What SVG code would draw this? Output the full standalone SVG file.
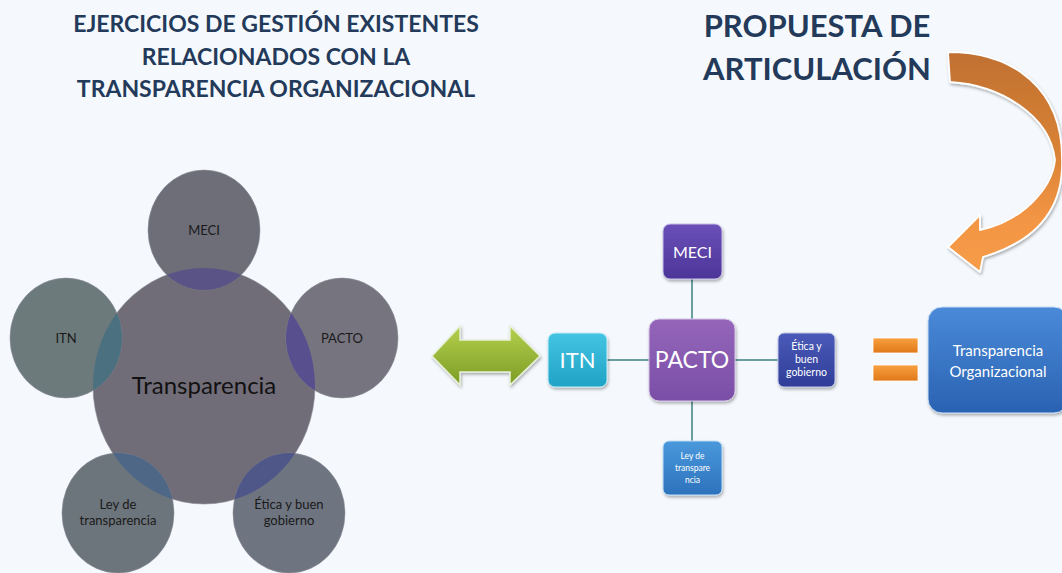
<svg xmlns="http://www.w3.org/2000/svg" width="1062" height="573" viewBox="0 0 1062 573">
<defs>
<style>
.t{font-family:Lato,"Open Sans","Liberation Sans",sans-serif}
.title{font-weight:bold;fill:#243a5a;text-anchor:middle}
.cl{font-size:13px;fill:#1a1a1a;text-anchor:middle}
.wl{fill:#ffffff;text-anchor:middle}
.circ{stroke:#8a8c96;stroke-width:1;stroke-opacity:0.6}
.conn{stroke:#6a9fa0;stroke-width:2;fill:none}
</style>
<linearGradient id="gGreen" x1="0" y1="0" x2="0" y2="1"><stop offset="0" stop-color="#b4d04e"/><stop offset="1" stop-color="#7c9c24"/></linearGradient>
<linearGradient id="gOrange" gradientUnits="userSpaceOnUse" x1="0" y1="52" x2="0" y2="272"><stop offset="0" stop-color="#c07030"/><stop offset="0.45" stop-color="#d98236"/><stop offset="0.75" stop-color="#f29544"/><stop offset="1" stop-color="#f69c48"/></linearGradient>
<linearGradient id="gBar" x1="0" y1="0" x2="0" y2="1"><stop offset="0" stop-color="#f8a040"/><stop offset="1" stop-color="#e07818"/></linearGradient>
<linearGradient id="gITN" x1="0" y1="0" x2="0" y2="1"><stop offset="0" stop-color="#44c4e2"/><stop offset="1" stop-color="#1fa3c6"/></linearGradient>
<linearGradient id="gPACTO" x1="0" y1="0" x2="0" y2="1"><stop offset="0" stop-color="#9466ba"/><stop offset="1" stop-color="#7a4ea6"/></linearGradient>
<linearGradient id="gMECI" x1="0" y1="0" x2="0" y2="1"><stop offset="0" stop-color="#6a4fb8"/><stop offset="1" stop-color="#4c3598"/></linearGradient>
<linearGradient id="gETICA" x1="0" y1="0" x2="0" y2="1"><stop offset="0" stop-color="#4a5ab8"/><stop offset="1" stop-color="#2f3d98"/></linearGradient>
<linearGradient id="gLEY" x1="0" y1="0" x2="0" y2="1"><stop offset="0" stop-color="#4a98dc"/><stop offset="1" stop-color="#2c72bc"/></linearGradient>
<linearGradient id="gTO" x1="0" y1="0" x2="0" y2="1"><stop offset="0" stop-color="#4a8ad8"/><stop offset="1" stop-color="#2a62b2"/></linearGradient>
<filter id="sh" x="-20%" y="-20%" width="140%" height="140%"><feDropShadow dx="1" dy="2" stdDeviation="1.5" flood-color="#000" flood-opacity="0.3"/></filter>
<clipPath id="cCenter"><ellipse cx="204" cy="386" rx="111" ry="118"/></clipPath>
</defs>
<rect width="1062" height="573" fill="#f5f9fd"/>

<g id="title-left" class="t title" font-size="23">
<text x="276" y="32">EJERCICIOS DE GESTIÓN EXISTENTES</text>
<text x="276" y="65">RELACIONADOS CON LA</text>
<text x="276" y="97">TRANSPARENCIA ORGANIZACIONAL</text>
</g>
<g id="title-right" class="t title" font-size="31">
<text x="817" y="37">PROPUESTA DE</text>
<text x="817" y="80">ARTICULACIÓN</text>
</g>

<g id="venn">
<g id="center">
<ellipse class="circ" cx="204" cy="386" rx="111" ry="118" fill="#716d78"/>
</g>
<g id="c-meci">
<ellipse class="circ" cx="204" cy="230" rx="56" ry="60" fill="#6e6e78"/>
<ellipse cx="204" cy="230" rx="56" ry="60" fill="#5a5386" clip-path="url(#cCenter)"/>
<text class="t cl" x="204" y="235">MECI</text>
</g>
<g id="c-pacto">
<ellipse class="circ" cx="342" cy="338" rx="56" ry="60" fill="#76747e"/>
<ellipse cx="342" cy="338" rx="56" ry="60" fill="#574f8e" clip-path="url(#cCenter)"/>
<text class="t cl" x="342" y="343">PACTO</text>
</g>
<g id="c-itn">
<ellipse class="circ" cx="66" cy="338" rx="56" ry="60" fill="#6d7a7c"/>
<ellipse cx="66" cy="338" rx="56" ry="60" fill="#4b7080" clip-path="url(#cCenter)"/>
<text class="t cl" x="66" y="343">ITN</text>
</g>
<g id="c-ley">
<ellipse class="circ" cx="118" cy="513" rx="56" ry="60" fill="#6c747c"/>
<ellipse cx="118" cy="513" rx="56" ry="60" fill="#4e6787" clip-path="url(#cCenter)"/>
<text class="t cl" x="118" y="509">Ley de</text>
<text class="t cl" x="118" y="525">transparencia</text>
</g>
<g id="c-etica">
<ellipse class="circ" cx="289" cy="513" rx="56" ry="60" fill="#6e7480"/>
<ellipse cx="289" cy="513" rx="56" ry="60" fill="#4f5789" clip-path="url(#cCenter)"/>
<text class="t cl" x="289" y="509">Ética y buen</text>
<text class="t cl" x="289" y="525">gobierno</text>
</g>
<text class="t" x="204" y="394" font-size="24" fill="#111" text-anchor="middle">Transparencia</text>
</g>

<g id="double-arrow">
<path d="M432,356 L460,326 L460,340 L510,340 L510,326 L540,356 L510,385 L510,372 L460,372 L460,385 Z" fill="url(#gGreen)" stroke="#e8f0d8" stroke-width="1.5" filter="url(#sh)"/>
</g>

<g id="connectors">
<line class="conn" x1="692" y1="279" x2="692" y2="319"/>
<line class="conn" x1="692" y1="401" x2="692" y2="441"/>
<line class="conn" x1="607" y1="360" x2="649" y2="360"/>
<line class="conn" x1="735" y1="360" x2="778" y2="360"/>
</g>

<g id="n-itn">
<rect x="548" y="333" width="59" height="54" rx="7" fill="url(#gITN)" stroke="#c6ecf6" stroke-width="1" filter="url(#sh)"/>
<text class="t wl" x="577.5" y="368" font-size="22">ITN</text>
</g>
<g id="n-pacto">
<rect x="649" y="319" width="86" height="82" rx="10" fill="url(#gPACTO)" stroke="#d6c6e6" stroke-width="1" filter="url(#sh)"/>
<text class="t wl" x="692" y="368" font-size="23">PACTO</text>
</g>
<g id="n-meci">
<rect x="663" y="224" width="59" height="55" rx="7" fill="url(#gMECI)" stroke="#c8c0e6" stroke-width="1" filter="url(#sh)"/>
<text class="t wl" x="692.5" y="258" font-size="16">MECI</text>
</g>
<g id="n-etica">
<rect x="778" y="333" width="57" height="54" rx="6" fill="url(#gETICA)" stroke="#c0c6e6" stroke-width="1" filter="url(#sh)"/>
<text class="t wl" x="806.5" y="350" font-size="10.5">Ética y</text>
<text class="t wl" x="806.5" y="363" font-size="10.5">buen</text>
<text class="t wl" x="806.5" y="376" font-size="10.5">gobierno</text>
</g>
<g id="n-ley">
<rect x="663" y="441" width="59" height="54" rx="6" fill="url(#gLEY)" stroke="#c2dcf4" stroke-width="1" filter="url(#sh)"/>
<text class="t wl" x="692.5" y="459" font-size="8.5">Ley de</text>
<text class="t wl" x="692.5" y="471" font-size="8.5">transpare</text>
<text class="t wl" x="692.5" y="483" font-size="8.5">ncia</text>
</g>

<g id="equals">
<rect x="873" y="338" width="45" height="15" fill="url(#gBar)" stroke="#fff" stroke-width="0.8"/>
<rect x="873" y="365" width="45" height="16" fill="url(#gBar)" stroke="#fff" stroke-width="0.8"/>
</g>

<g id="n-transparencia-org">
<rect x="928" y="307" width="140" height="106" rx="14" fill="url(#gTO)" stroke="#c8dcf4" stroke-width="1" filter="url(#sh)"/>
<text class="t wl" x="998" y="356" font-size="15">Transparencia</text>
<text class="t wl" x="998" y="377" font-size="15">Organizacional</text>
</g>

<g id="curved-arrow">
<path d="M948,52 C1015,52 1062,90 1062,158 C1064,205 1040,240 983,257 L980,272 L948,247 L980,215 L980,230 C1020,222 1052,190 1055,160 C1050,115 1000,85 950,82 Z" fill="url(#gOrange)" stroke="#ffffff" stroke-width="1.8" stroke-linejoin="round" filter="url(#sh)"/>
</g>
</svg>
